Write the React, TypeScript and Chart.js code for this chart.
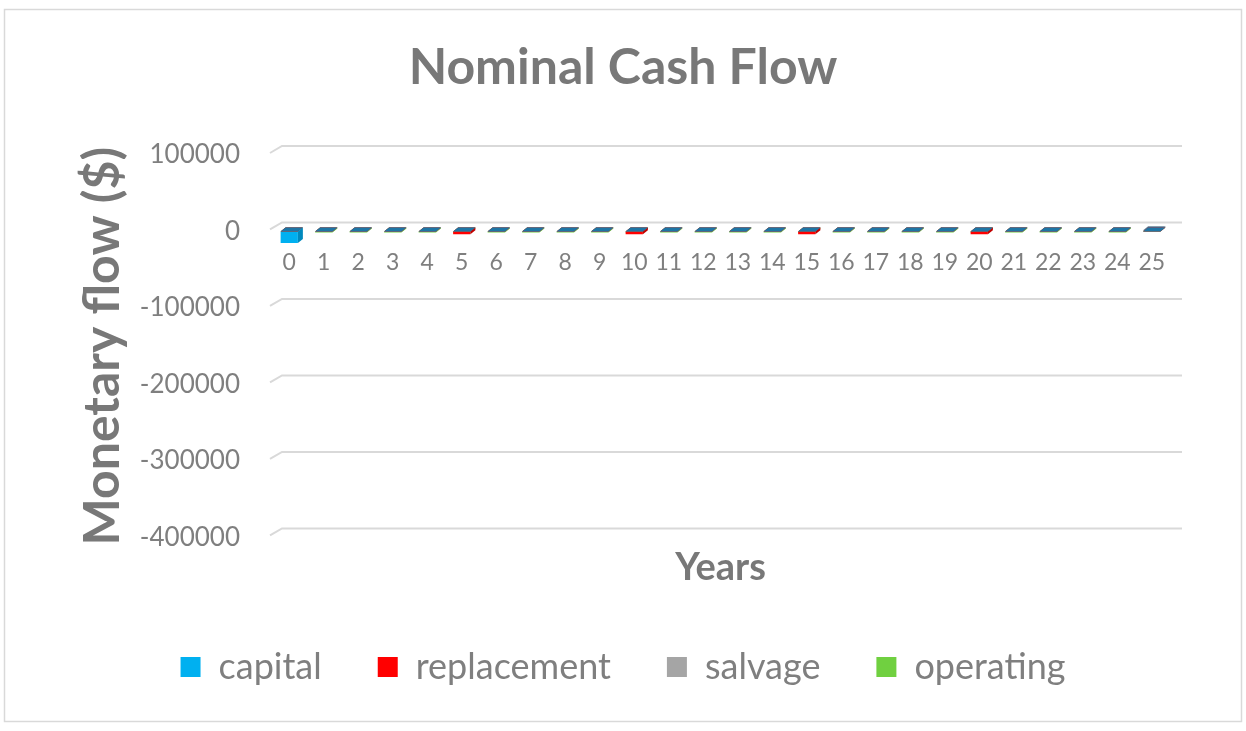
import React, { useEffect, useRef } from 'react';
import { Chart, registerables } from 'chart.js';

Chart.register(...registerables);

const years = ['0', '1', '2', '3', '4', '5', '6', '7', '8', '9', '10', '11', '12', '13', '14', '15', '16', '17', '18', '19', '20', '21', '22', '23', '24', '25'];
const capital = [-15000, 0, 0, 0, 0, 0, 0, 0, 0, 0, 0, 0, 0, 0, 0, 0, 0, 0, 0, 0, 0, 0, 0, 0, 0, 0];
const replacement = [0, 0, 0, 0, 0, -3500, 0, 0, 0, 0, -3500, 0, 0, 0, 0, -3500, 0, 0, 0, 0, -3500, 0, 0, 0, 0, 0];
const salvage = [0, 0, 0, 0, 0, 0, 0, 0, 0, 0, 0, 0, 0, 0, 0, 0, 0, 0, 0, 0, 0, 0, 0, 0, 0, 1500];
const operating = [0, -1200, -1200, -1200, -1200, -1200, -1200, -1200, -1200, -1200, -1200, -1200, -1200, -1200, -1200, -1200, -1200, -1200, -1200, -1200, -1200, -1200, -1200, -1200, -1200, 0];
const yTicks = [100000, 0, -100000, -200000, -300000, -400000];

const FONT = 'Lato';
const TEXT = '#7f7f7f';
const TITLE = '#787878';

const borderPlugin = {
  id: 'outerBorder',
  beforeDraw(chart: any) {
    const { ctx, width, height } = chart;
    ctx.save();
    ctx.fillStyle = '#ffffff';
    ctx.fillRect(0, 0, width, height);
    ctx.strokeStyle = '#d9d9d9';
    ctx.lineWidth = 1.5;
    ctx.strokeRect(4.5, 9.5, width - 9, height - 19);
    ctx.restore();
  },
};

const wallGrid = {
  id: 'wallGrid',
  beforeDatasetsDraw(chart: any) {
    const { ctx, chartArea } = chart;
    const ys = chart.scales.y;
    ctx.save();
    ctx.strokeStyle = '#d9d9d9';
    ctx.lineWidth = 2;
    ys.ticks.forEach((t: any) => {
      const y = ys.getPixelForValue(t.value);
      ctx.beginPath();
      ctx.moveTo(chartArea.left - 2, y - 2);
      ctx.lineTo(chartArea.left + 10, y - 9);
      ctx.lineTo(chartArea.right + 13, y - 9);
      ctx.stroke();
    });
    ctx.restore();
  },
};

const faces = {
  id: 'faces3d',
  afterDatasetsDraw(chart: any) {
    const { ctx } = chart;
    const n = chart.data.datasets.length;
    ctx.save();
    for (let i = n - 1; i >= 0; i--) {
      const meta = chart.getDatasetMeta(i);
      const ds: any = chart.data.datasets[i];
      meta.data.forEach((el: any) => {
        const { x, y, base, width } = el.getProps(['x', 'y', 'base', 'width'], true);
        const l = x - width / 2;
        const r = x + width / 2;
        const t = Math.min(y, base);
        const b = Math.max(y, base);
        const dx = 5;
        const dy = 4;
        if (b - t > 0.5) {
          ctx.fillStyle = ds.sideColor;
          ctx.beginPath();
          ctx.moveTo(r, t);
          ctx.lineTo(r + dx, t - dy);
          ctx.lineTo(r + dx, b - dy);
          ctx.lineTo(r, b);
          ctx.closePath();
          ctx.fill();
        }
        ctx.fillStyle = ds.topColor;
        ctx.beginPath();
        ctx.moveTo(l, t);
        ctx.lineTo(r, t);
        ctx.lineTo(r + dx, t - dy);
        ctx.lineTo(l + dx, t - dy);
        ctx.closePath();
        ctx.fill();
      });
    }
    ctx.restore();
  },
};

export default function App() {
  const ref = useRef<HTMLCanvasElement | null>(null);

  useEffect(() => {
    document.body.style.margin = '0';
    if (!ref.current) return;
    const chart = new Chart(ref.current, {
      type: 'bar',
      data: {
        labels: years,
        datasets: [
          { label: 'capital', data: capital, backgroundColor: '#00B0F0', sideColor: '#0089BD', topColor: '#1E75A5' } as any,
          { label: 'replacement', data: replacement, backgroundColor: '#FF0000', sideColor: '#C00000', topColor: '#D41010' } as any,
          { label: 'salvage', data: salvage, backgroundColor: '#A5A5A5', sideColor: '#7F7F7F', topColor: '#5F7F95' } as any,
          { label: 'operating', data: operating, backgroundColor: '#70D040', sideColor: '#52A82C', topColor: '#5DB535' } as any,
        ],
      },
      options: {
        responsive: false,
        animation: false,
        maintainAspectRatio: false,
        datasets: { bar: { grouped: false, barPercentage: 0.5, categoryPercentage: 1 } } as any,
        layout: { padding: { left: 0, right: 0, top: 0, bottom: 36 } },
        plugins: {
          tooltip: { enabled: false },
          title: {
            display: true,
            text: 'Nominal Cash Flow',
            color: TITLE,
            font: { family: FONT, size: 50, weight: 'bold' },
            padding: { top: 38, bottom: 57 },
          },
          legend: {
            position: 'bottom',
            labels: {
              color: TEXT,
              font: { family: FONT, size: 36 },
              boxWidth: 20,
              boxHeight: 20,
              padding: 56,
            },
          },
        },
        scales: {
          x: {
            type: 'category',
            position: { y: 0 } as any,
            grid: { display: false, drawTicks: false },
            border: { display: false },
            ticks: { color: TEXT, font: { family: FONT, size: 23 }, padding: 17, maxRotation: 0, autoSkip: false },
          },
          x2: {
            type: 'category',
            position: 'bottom',
            labels: years,
            grid: { display: false, drawTicks: false },
            border: { display: false },
            ticks: { display: false },
            title: {
              display: true,
              text: 'Years',
              color: TITLE,
              font: { family: FONT, size: 38, weight: 'bold' },
              padding: { top: 8, bottom: 2 },
            },
          },
          y: {
            min: -400000,
            max: 100000,
            afterBuildTicks: (s: any) => {
              s.ticks = yTicks.map((v) => ({ value: v }));
            },
            afterFit: (s: any) => {
              s.width = 272;
            },
            grid: { display: false },
            border: { display: false },
            ticks: {
              color: TEXT,
              font: { family: FONT, size: 26 },
              padding: 24,
              callback: (v: any) => String(v),
            },
            title: {
              display: true,
              text: 'Monetary flow ($)',
              color: TITLE,
              font: { family: FONT, size: 50, weight: 'bold' },
              padding: { top: 73, bottom: 0 },
            },
          },
          y2: {
            type: 'linear',
            position: 'right',
            display: true,
            grid: { display: false, drawTicks: false },
            border: { display: false },
            ticks: { display: false },
            afterFit: (s: any) => {
              s.width = 77;
            },
          },
        },
      },
      plugins: [borderPlugin, wallGrid, faces],
    });
    return () => chart.destroy();
  }, []);

  return (
    <div style={{ width: 1246, height: 731 }}>
      <canvas ref={ref} width={1246} height={731} style={{ display: 'block' }} />
    </div>
  );
}
